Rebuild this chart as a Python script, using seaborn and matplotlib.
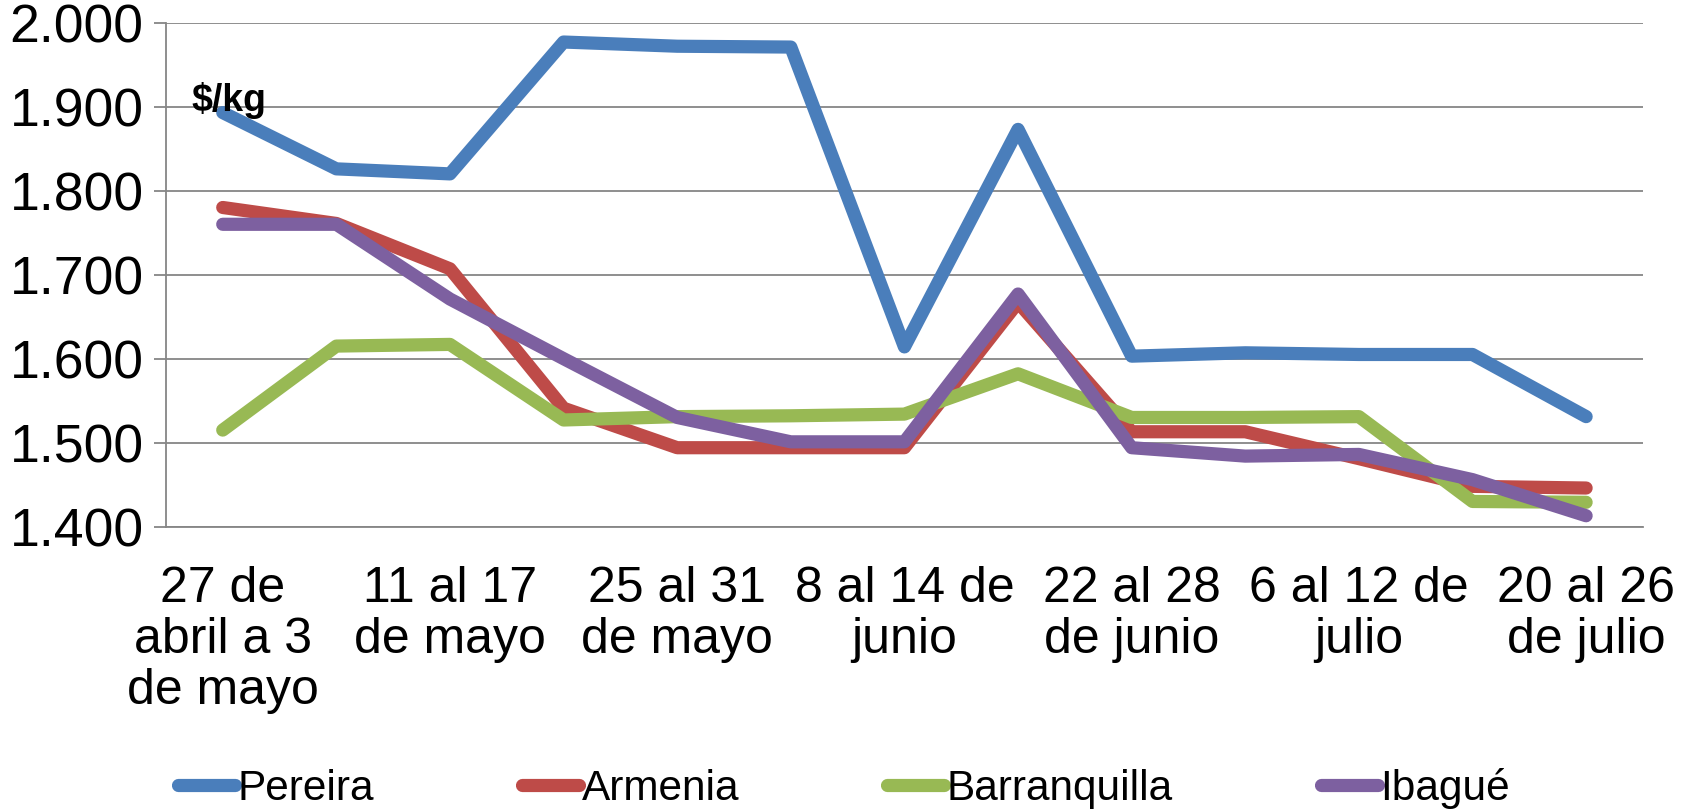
import numpy as np
import pandas as pd
import matplotlib
matplotlib.use("Agg")
import matplotlib.pyplot as plt
import seaborn as sns

# Weekly prices ($/kg) by city
semanas = list(range(13))
tick_pos = [0, 2, 4, 6, 8, 10, 12]
tick_labels = [
    "27 de\nabril a 3\nde mayo",
    "11 al 17\nde mayo",
    "25 al 31\nde mayo",
    "8 al 14 de\njunio",
    "22 al 28\nde junio",
    "6 al 12 de\njulio",
    "20 al 26\nde julio",
]

pereira = [1893, 1826, 1820, 1977, 1972, 1971, 1614, 1873, 1603, 1607, 1605, 1605, 1531]
armenia = [1780, 1761, 1707, 1541, 1494, 1494, 1494, 1667, 1513, 1513, 1481, 1448, 1446]
barranquilla = [1515, 1615, 1617, 1527, 1531, 1532, 1534, 1582, 1530, 1530, 1531, 1430, 1429]
ibague = [1760, 1760, 1671, 1600, 1530, 1501, 1501, 1677, 1494, 1484, 1486, 1456, 1413]

ciudades = ["Pereira", "Armenia", "Barranquilla", "Ibagué"]
colores = ["#4A7EBB", "#BE4B48", "#98B954", "#7D60A0"]

df = pd.DataFrame({
    "semana": semanas * 4,
    "precio": pereira + armenia + barranquilla + ibague,
    "ciudad": sum([[c] * len(semanas) for c in ciudades], []),
})

sns.set_style("white")
plt.rcParams["font.family"] = ["Liberation Sans", "DejaVu Sans"]
plt.rcParams["text.color"] = "black"
plt.rcParams["xtick.color"] = "black"
plt.rcParams["ytick.color"] = "black"

fig = plt.figure(figsize=(16.88, 8.11), dpi=100)
ax = fig.add_axes([0.0983, 0.3506, 0.875, 0.6214])

sns.lineplot(data=df, x="semana", y="precio", hue="ciudad", hue_order=ciudades,
             palette=colores, linewidth=9.5, sort=False, ax=ax, legend=False)
for ln in ax.get_lines():
    ln.set_solid_capstyle("round")
    ln.set_solid_joinstyle("round")

grid_col = "#868686"
ax.set_xlim(-0.5, 12.5)
ax.set_ylim(1400, 2000)
ax.set_yticks(np.arange(1400, 2001, 100))
ax.set_yticklabels([f"{v:,}".replace(",", ".") for v in range(1400, 2001, 100)])
ax.set_xticks(tick_pos)
ax.set_xticklabels(tick_labels, linespacing=1.15)
ax.yaxis.grid(True, color=grid_col, linewidth=1.3)
ax.set_axisbelow(True)
ax.tick_params(axis="y", length=9, width=1.3, color=grid_col, labelcolor="black",
               pad=7, labelsize=38.5, left=True)
ax.tick_params(axis="x", length=0, pad=28, labelsize=36, labelcolor="black")
for s in ["top", "right"]:
    ax.spines[s].set_visible(False)
for s in ["left", "bottom"]:
    ax.spines[s].set_color(grid_col)
    ax.spines[s].set_linewidth(1.3)
ax.set_xlabel("")
ax.set_ylabel("")

ax.text(0.0176, 0.825, "$/kg", transform=ax.transAxes, fontsize=27,
        fontweight="bold", va="baseline", ha="left", color="black")

handles = [plt.Line2D([], [], color=c, linewidth=9.5, solid_capstyle="round") for c in colores]
fig.legend(handles, ciudades, loc="center", bbox_to_anchor=(0.5, 0.028), ncol=4,
           frameon=False, fontsize=30.5, handlelength=1.35, handletextpad=0.05,
           columnspacing=3.5)

fig.savefig("out.png", dpi=100)
